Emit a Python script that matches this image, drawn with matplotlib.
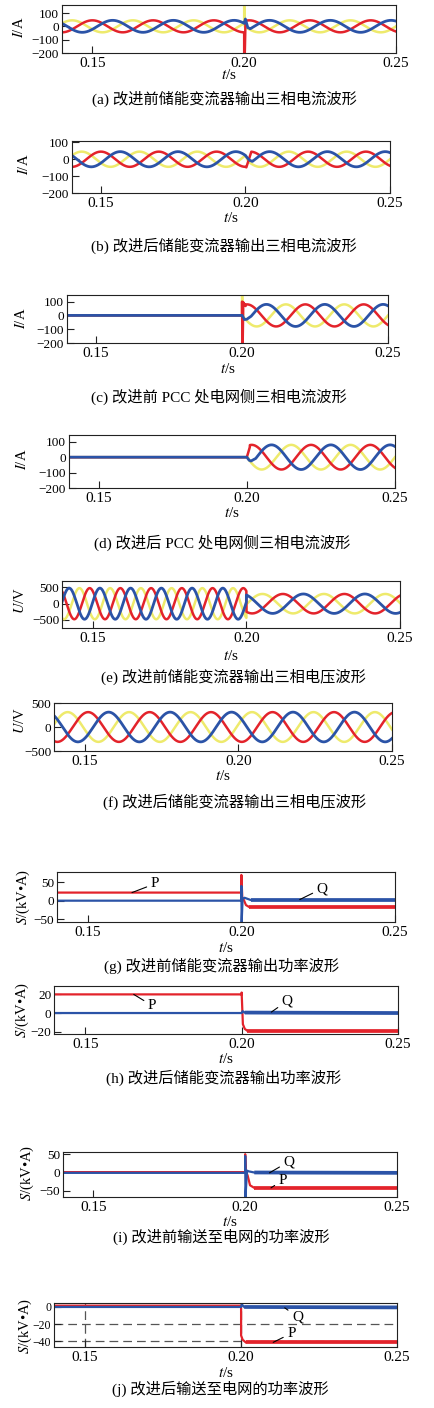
import numpy as np
import matplotlib
matplotlib.use("Agg")
import matplotlib.pyplot as plt

plt.rcParams["font.family"] = ["Liberation Serif", "Noto Sans CJK SC"]
plt.rcParams["mathtext.fontset"] = "stix"
plt.rcParams["axes.unicode_minus"] = True

W, H, DPI = 434, 1408, 100

RED = "#e3232b"
BLUE = "#2b53a7"
YELLOW = "#eeea6c"
INK = "#222222"

T_START, T_END, T_SWITCH = 0.14, 0.25, 0.20
X_TICKS = [0.15, 0.20, 0.25]
X_TICK_LABELS = ["0.15", "0.20", "0.25"]

# phase of each trace relative to the red one, degrees
PHASE_SHIFT = {"yellow": 120.0, "red": 0.0, "blue": -120.0}

# ---------------- three-phase quantities: (freq Hz, amplitude, red phase deg) ----------------
# (a) converter output current, original control
a_before = dict(freq=50, amp=45, phase=-90)
a_after = dict(freq=50, amp=45, phase=60)
a_transient = {
    "yellow": [(0.2000, 22), (0.2000, 158), (0.2002, 0)],
    "red": [(0.2000, -45), (0.2000, -200), (0.2002, -200), (0.2004, 30)],
    "blue": [(0.2000, 22), (0.2004, 55), (0.2012, -10), (0.2020, -17)],
}
# (b) converter output current, improved control
b_before = dict(freq=50, amp=45, phase=-90)
b_after = dict(freq=50, amp=45, phase=60)
b_transient = {
    "yellow": [(0.2000, 22), (0.2010, -12)],
    "red": [(0.2000, -45), (0.2003, -48), (0.2020, 44)],
    "blue": [(0.2000, 22), (0.2008, 5), (0.2016, -8), (0.2024, -12)],
}
# (c) grid-side current at PCC, original control
c_before = dict(freq=50, amp=0, phase=0)
c_after = dict(freq=50, amp=80, phase=60)
c_transient = {
    "yellow": [(0.2000, 0), (0.2000, 148), (0.2003, -6)],
    "red": [(0.2000, 0), (0.2000, 100), (0.2001, -200), (0.2002, -200), (0.2004, 95), (0.2012, 68)],
    "blue": [(0.2000, 0), (0.2008, -30), (0.2016, -28), (0.2030, -8)],
}
# (d) grid-side current at PCC, improved control
d_before = dict(freq=50, amp=0, phase=0)
d_after = dict(freq=50, amp=80, phase=60)
d_transient = {
    "yellow": [(0.2000, 0), (0.2006, -8)],
    "red": [(0.2000, 0), (0.2004, 25), (0.2010, 65)],
    "blue": [(0.2000, 0), (0.2008, -20), (0.2014, -25), (0.2030, -9)],
}
# (e) converter output voltage, original control
e_before = dict(freq=100, amp=480, phase=126)
e_after = dict(freq=50, amp=300, phase=-124)
e_transient = {"yellow": [], "red": [], "blue": []}
# (f) converter output voltage, improved control
f_before = dict(freq=50, amp=310, phase=-110)
f_after = dict(freq=50, amp=310, phase=-110)
f_transient = {"yellow": [], "red": [], "blue": []}

# ---------------- power traces: breakpoints (t, kV·A) ----------------
g_p_t = [0.14, 0.2000, 0.2000, 0.2003, 0.2008, 0.2015, 0.2025, 0.25]
g_p_v = [22, 22, 70, 8, 2, -12, -17, -17]
g_q_t = [0.14, 0.2000, 0.2000, 0.2001, 0.2004, 0.2010, 0.2030, 0.25]
g_q_v = [0, 0, 40, -58, 5, 8, 2, 2]

h_p_t = [0.14, 0.2000, 0.2000, 0.2004, 0.2010, 0.2018, 0.25]
h_p_v = [20, 20, 22, -12, -17, -19, -19]
h_q_t = [0.14, 0.2000, 0.2003, 0.2010, 0.25]
h_q_v = [0, 0, 2, 0.5, 0]

i_p_t = [0.14, 0.2000, 0.2000, 0.2002, 0.2008, 0.2016, 0.2030, 0.25]
i_p_v = [1, 1, 50, 3, -8, -35, -42, -42]
i_q_t = [0.14, 0.2000, 0.2000, 0.2001, 0.2006, 0.2012, 0.2030, 0.25]
i_q_v = [-1, -1, 45, -67, 5, 3, 0, -1]

j_p_t = [0.14, 0.2000, 0.2000, 0.2005, 0.2015, 0.25]
j_p_v = [1.5, 1.5, -33, -38, -41, -41]
j_q_t = [0.14, 0.2000, 0.2002, 0.2010, 0.25]
j_q_v = [0, 0, 3, 0, -0.5]

CAPTIONS = [
    "(a) 改进前储能变流器输出三相电流波形",
    "(b) 改进后储能变流器输出三相电流波形",
    "(c) 改进前 PCC 处电网侧三相电流波形",
    "(d) 改进后 PCC 处电网侧三相电流波形",
    "(e) 改进前储能变流器输出三相电压波形",
    "(f) 改进后储能变流器输出三相电压波形",
    "(g) 改进前储能变流器输出功率波形",
    "(h) 改进后储能变流器输出功率波形",
    "(i) 改进前输送至电网的功率波形",
    "(j) 改进后输送至电网的功率波形",
]
Y_LABEL_I = "$I$/A"
Y_LABEL_U = "$U$/V"
Y_LABEL_S = "$S$/(kV•A)"

I_TICKS = [-200, -100, 0, 100]
U_TICKS = [-500, 0, 500]

fig = plt.figure(figsize=(W / DPI, H / DPI), dpi=DPI)


def fx(px):
    return px / W


def fy(py):
    return 1 - py / H


def make_axes(box, ylim, yticks, ytick_size=9.5):
    l, t, r, b = box
    ax = fig.add_axes([fx(l), fy(b), (r - l) / W, (b - t) / H])
    ax.set_xlim(T_START, T_END)
    ax.set_ylim(*ylim)
    ax.set_xticks(X_TICKS)
    ax.set_xticklabels(X_TICK_LABELS)
    ax.set_yticks(yticks)
    ax.tick_params(axis="both", direction="in", length=5, width=0.8, color=INK,
                   top=False, right=False)
    ax.tick_params(axis="x", labelsize=11, pad=3)
    ax.tick_params(axis="y", labelsize=ytick_size, pad=2)
    for s in ax.spines.values():
        s.set_linewidth(0.8)
        s.set_color(INK)
    return ax


def wave(t, spec, shift):
    return spec["amp"] * np.sin(2 * np.pi * spec["freq"] * t + np.deg2rad(spec["phase"] + shift))


def trace(before, after, transient, shift, n=1600):
    tb = np.linspace(T_START, T_SWITCH, n)
    yb = wave(tb, before, shift)
    tt = np.array([p[0] for p in transient], dtype=float)
    yt = np.array([p[1] for p in transient], dtype=float)
    t_resume = tt[-1] if len(tt) else T_SWITCH
    ta = np.linspace(t_resume + 1e-5, T_END, n)
    ya = wave(ta, after, shift)
    return np.concatenate([tb, tt, ta]), np.concatenate([yb, yt, ya])


def three_phase(ax, before, after, transient):
    for name, color, lw in (("yellow", YELLOW, 1.8), ("red", RED, 1.8), ("blue", BLUE, 2.0)):
        t, y = trace(before, after, transient[name], PHASE_SHIFT[name])
        ax.plot(t, y, color=color, lw=lw, solid_joinstyle="round")


def power(ax, t, v, color, thick_from):
    t = np.asarray(t, float)
    v = np.asarray(v, float)
    ax.plot(t[:thick_from + 1], v[:thick_from + 1], color=color, lw=1.6)
    ax.plot(t[thick_from:], v[thick_from:], color=color, lw=2.7, solid_capstyle="butt")


def label(ax, text, xy, xytext):
    ax.annotate(text, xy=xy, xytext=xytext, fontsize=11, color="black",
                ha="left", va="center",
                arrowprops=dict(arrowstyle="-", color="black", lw=0.8,
                                shrinkA=1, shrinkB=0))


def decorate(ax, ylabel, ylabel_xy, tlabel_y, caption, caption_xy):
    fig.text(fx(ylabel_xy[0]), fy(ylabel_xy[1]), ylabel, rotation=90,
             ha="center", va="center", fontsize=10.5)
    box = ax.get_position()
    fig.text(box.x0 + box.width / 2, fy(tlabel_y), "$t$/s", ha="center", va="center",
             fontsize=11)
    fig.text(fx(caption_xy[0]), fy(caption_xy[1]), caption, ha="center", va="center",
             fontsize=11)


# (a)
ax = make_axes((62, 5, 396, 53), (-200, 160), I_TICKS)
three_phase(ax, a_before, a_after, a_transient)
decorate(ax, Y_LABEL_I, (19, 27), 75, CAPTIONS[0], (224, 99))

# (b)
ax = make_axes((72, 141, 390, 193), (-200, 108), I_TICKS)
three_phase(ax, b_before, b_after, b_transient)
decorate(ax, Y_LABEL_I, (24, 164), 218, CAPTIONS[1], (224, 246))

# (c)
ax = make_axes((67, 295, 388, 343), (-200, 148), I_TICKS)
three_phase(ax, c_before, c_after, c_transient)
decorate(ax, Y_LABEL_I, (21, 318), 369, CAPTIONS[2], (219, 397))

# (d)
ax = make_axes((69, 435, 395, 488), (-200, 144), I_TICKS)
three_phase(ax, d_before, d_after, d_transient)
decorate(ax, Y_LABEL_I, (22, 459), 513, CAPTIONS[3], (222, 543))

# (e)
ax = make_axes((62, 581, 400, 628), (-750, 700), U_TICKS)
three_phase(ax, e_before, e_after, e_transient)
decorate(ax, Y_LABEL_U, (20, 600), 656, CAPTIONS[4], (233, 677))

# (f)
ax = make_axes((54, 703, 392, 751), (-500, 500), U_TICKS)
three_phase(ax, f_before, f_after, f_transient)
decorate(ax, Y_LABEL_U, (20, 720), 776, CAPTIONS[5], (235, 802))

# (g)
ax = make_axes((57, 872, 395, 922), (-58, 78), [-50, 0, 50])
power(ax, g_p_t, g_p_v, RED, 6)
power(ax, g_q_t, g_q_v, BLUE, 6)
label(ax, "P", (0.1644, 22), (0.1705, 46))
label(ax, "Q", (0.2190, 3), (0.2245, 33))
decorate(ax, Y_LABEL_S, (23, 897), 948, CAPTIONS[6], (222, 966))

# (h)
ax = make_axes((54, 986, 398, 1034), (-22.5, 29), [-20, 0, 20])
power(ax, h_p_t, h_p_v, RED, 5)
power(ax, h_q_t, h_q_v, BLUE, 3)
label(ax, "P", (0.1655, 20), (0.1700, 8))
label(ax, "Q", (0.2095, 1), (0.2128, 13))
decorate(ax, Y_LABEL_S, (22, 1010), 1059, CAPTIONS[7], (224, 1078))

# (i)
ax = make_axes((63, 1152, 397, 1197), (-67, 56), [-50, 0, 50])
power(ax, i_p_t, i_p_v, RED, 6)
power(ax, i_q_t, i_q_v, BLUE, 6)
label(ax, "Q", (0.2080, -1), (0.2126, 30))
label(ax, "P", (0.2085, -42), (0.2110, -21))
decorate(ax, Y_LABEL_S, (27, 1173), 1222, CAPTIONS[8], (221, 1237))

# (j)
ax = make_axes((54, 1303, 397, 1347), (-46.4, 4.6), [-40, -20, 0], ytick_size=8.5)
for yv in (-20, -40):
    ax.axhline(yv, color="#555555", lw=0.9, dashes=(7, 4), zorder=0)
for xv in (0.15, 0.20):
    ax.axvline(xv, color="#555555", lw=0.9, dashes=(7, 4), zorder=0)
power(ax, j_p_t, j_p_v, RED, 4)
power(ax, j_q_t, j_q_v, BLUE, 3)
label(ax, "Q", (0.2140, -1), (0.2163, -11.5))
label(ax, "P", (0.2103, -41), (0.2148, -30.5))
decorate(ax, Y_LABEL_S, (25, 1326), 1373, CAPTIONS[9], (220, 1389))

fig.savefig("out.png", dpi=DPI)
